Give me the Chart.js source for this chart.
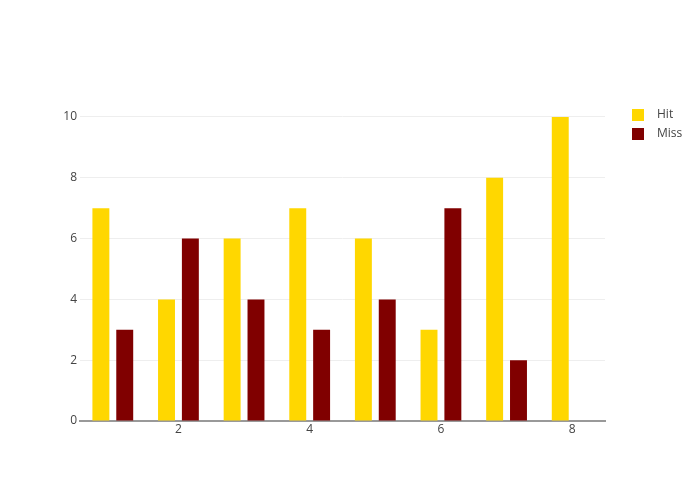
<!DOCTYPE html>
<html>
<head>
<meta charset="utf-8">
<script src="https://cdn.jsdelivr.net/npm/chart.js@4"></script>
<style>
html,body{margin:0;padding:0;background:#fff;}
#wrap{width:700px;height:500px;position:relative;}
</style>
</head>
<body>
<div id="wrap"><canvas id="c" width="700" height="500"></canvas></div>
<script>
const categories = [1, 2, 3, 4, 5, 6, 7, 8];
const hitValues = [7, 4, 6, 7, 6, 3, 8, 10];
const missValues = [3, 6, 4, 3, 4, 7, 2, 0];
const seriesNames = ['Hit', 'Miss'];
const seriesColors = ['#FFD700', '#800000'];
const xTickLabels = ['2', '4', '6', '8'];

const legendPlugin = {
  id: 'sideLegend',
  afterDraw(chart) {
    const ctx = chart.ctx;
    ctx.save();
    ctx.font = '12px "Open Sans"';
    ctx.textBaseline = 'middle';
    chart.data.datasets.forEach((ds, i) => {
      const y = 115 + i * 19;
      ctx.fillStyle = ds.backgroundColor;
      ctx.fillRect(632, y - 6, 12, 12);
      ctx.fillStyle = '#444';
      ctx.fillText(ds.label, 657, y);
    });
    ctx.restore();
  }
};

new Chart(document.getElementById('c'), {
  type: 'bar',
  data: {
    labels: categories.map(String),
    datasets: [
      { label: seriesNames[0], data: hitValues, backgroundColor: seriesColors[0] },
      { label: seriesNames[1], data: missValues, backgroundColor: seriesColors[1] }
    ]
  },
  options: {
    responsive: false,
    animation: false,
    layout: { padding: { left: 0, top: 101, right: 95, bottom: 49 } },
    categoryPercentage: 0.727,
    barPercentage: 0.71,
    plugins: { legend: { display: false }, tooltip: { enabled: false } },
    scales: {
      x: {
        type: 'category',
        offset: true,
        grid: { display: false, drawTicks: false },
        border: { color: '#999', width: 2 },
        afterFit(s) { s.height = 30; },
        ticks: {
          padding: 1,
          autoSkip: false,
          maxRotation: 0,
          color: '#444',
          font: { family: 'Open Sans', size: 12 },
          callback(v, i) {
            const lab = this.getLabelForValue(v);
            return xTickLabels.includes(lab) ? lab : '';
          }
        }
      },
      y: {
        min: 0,
        max: 10.526,
        afterFit(s) { s.width = 80; },
        afterBuildTicks(s) { s.ticks = [0, 2, 4, 6, 8, 10].map(v => ({ value: v })); },
        grid: { color: '#eee', drawTicks: false },
        border: { display: false },
        ticks: {
          padding: 3,
          color: '#444',
          font: { family: 'Open Sans', size: 12 }
        }
      }
    }
  },
  plugins: [legendPlugin]
});
</script>
</body>
</html>
